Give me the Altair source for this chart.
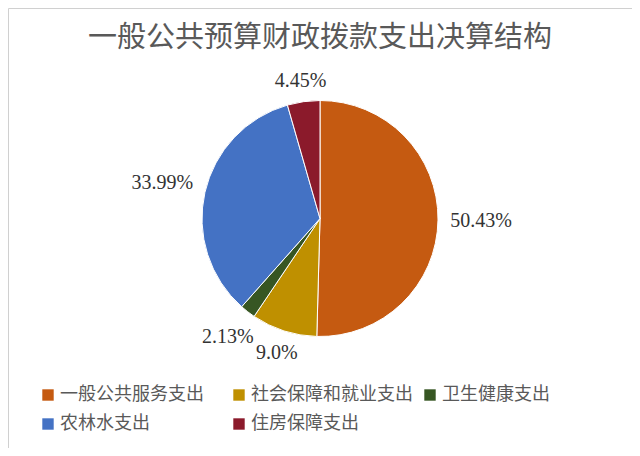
import altair as alt
import pandas as pd

TITLE = "一般公共预算财政拨款支出决算结构"
categories = ["一般公共服务支出", "社会保障和就业支出", "卫生健康支出", "农林水支出", "住房保障支出"]
values = [50.43, 9.0, 2.13, 33.99, 4.45]
labels = ["50.43%", "9.0%", "2.13%", "33.99%", "4.45%"]
colors = ["#C55A11", "#BF9000", "#375623", "#4472C4", "#8B1A2B"]

df = pd.DataFrame({
    "cat": categories,
    "value": values,
    "label": labels,
    "idx": list(range(len(categories))),
})

CX, CY, R = 312, 210.5, 118
CJK = "Noto Sans CJK SC"
theta_scale = alt.Scale(domain=[0, sum(values)])

pie = alt.Chart(df).mark_arc(outerRadius=R, stroke="white", strokeWidth=1).encode(
    theta=alt.Theta("value:Q", stack=True, scale=theta_scale),
    order=alt.Order("idx:Q"),
    color=alt.Color(
        "cat:N",
        scale=alt.Scale(domain=categories, range=colors),
        sort=categories,
        legend=alt.Legend(
            title=None,
            orient="none",
            direction="horizontal",
            legendX=31,
            legendY=378,
            columns=3,
            gridAlign="all",
            columnPadding=8,
            rowPadding=11,
            symbolType="square",
            symbolSize=130,
            symbolStrokeWidth=0,
            labelFont=CJK,
            labelFontSize=18,
            labelColor="#595959",
            labelOffset=3,
            labelLimit=300,
            padding=0,
        ),
    ),
    x=alt.value(CX),
    y=alt.value(CY),
)

text = alt.Chart(df).transform_window(
    cum="sum(value)", sort=[alt.SortField("idx")], frame=[None, 0]
).transform_joinaggregate(
    total="sum(value)"
).transform_calculate(
    midv="datum.cum - datum.value/2"
).transform_calculate(
    mid="2*PI*datum.midv/datum.total"
).transform_calculate(
    lr=f"{R + 10} + abs(sin(datum.mid))*length(datum.label)*5.5 + abs(cos(datum.mid))*7"
).mark_text(font="Liberation Serif", fontSize=20, color="#333333").encode(
    theta=alt.Theta("midv:Q", stack=None, scale=theta_scale),
    text="label:N",
    radius=alt.Radius("lr:Q", scale=None),
    x=alt.value(CX),
    y=alt.value(CY),
)

title = alt.Chart(pd.DataFrame({"t": [TITLE]})).mark_text(
    font=CJK, fontSize=29, color="#595959", fontWeight="normal"
).encode(text="t:N", x=alt.value(312), y=alt.value(30))

chart = alt.layer(pie, text, title).properties(
    width=624,
    height=440,
    autosize=alt.AutoSizeParams(type="none"),
    padding=0,
).configure_view(stroke="#d0d0d0", strokeWidth=1)

chart.save("out.html", embed_options={"renderer": "svg", "actions": False})
